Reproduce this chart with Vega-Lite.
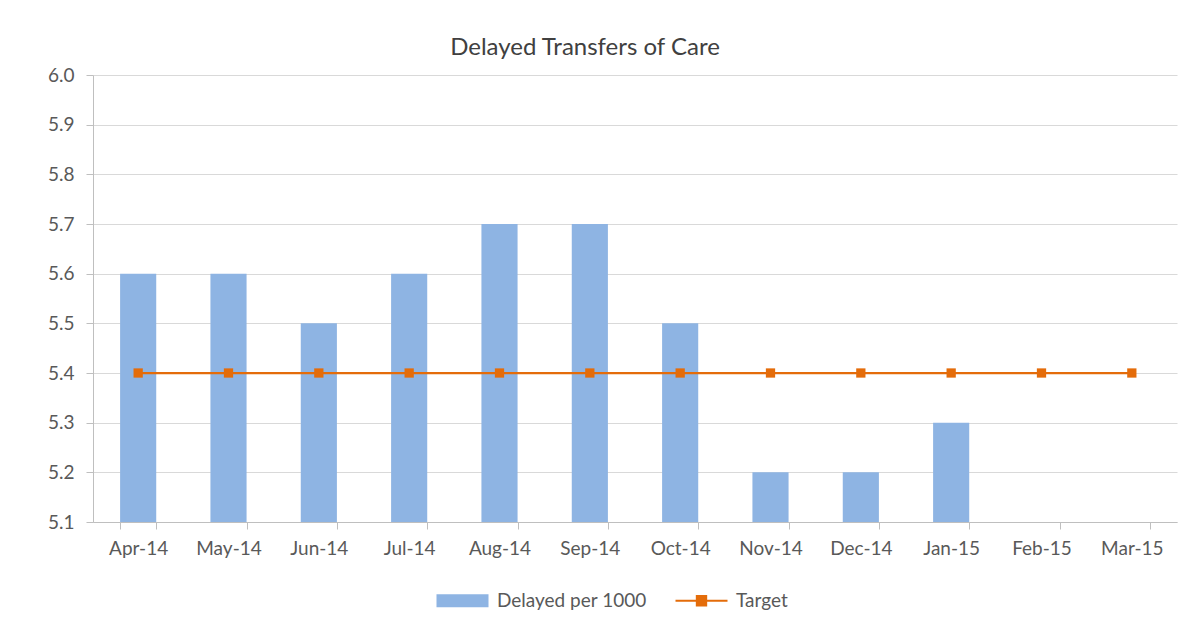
{
  "$schema": "https://vega.github.io/schema/vega-lite/v6.json",
  "autosize": {"type": "none"},
  "width": 1084,
  "height": 447,
  "padding": {"left": 93, "top": 75, "right": 7, "bottom": 108},
  "background": "white",
  "config": {
    "font": "Lato",
    "view": {"stroke": null},
    "axis": {"labelFont": "Lato", "labelFontSize": 19, "labelColor": "#595959", "domainColor": "#BFBFBF", "tickColor": "#BFBFBF", "gridColor": "#D9D9D9", "title": null}
  },
  "title": {"text": "Delayed Transfers of Care", "font": "Lato", "fontSize": 24, "fontWeight": "normal", "color": "#404040", "anchor": "middle", "frame": "group", "dx": -50, "offset": 6},
  "data": {
    "values": [
      {"month": "Apr-14", "delayed": 5.6, "target": 5.4},
      {"month": "May-14", "delayed": 5.6, "target": 5.4},
      {"month": "Jun-14", "delayed": 5.5, "target": 5.4},
      {"month": "Jul-14", "delayed": 5.6, "target": 5.4},
      {"month": "Aug-14", "delayed": 5.7, "target": 5.4},
      {"month": "Sep-14", "delayed": 5.7, "target": 5.4},
      {"month": "Oct-14", "delayed": 5.5, "target": 5.4},
      {"month": "Nov-14", "delayed": 5.2, "target": 5.4},
      {"month": "Dec-14", "delayed": 5.2, "target": 5.4},
      {"month": "Jan-15", "delayed": 5.3, "target": 5.4},
      {"month": "Feb-15", "delayed": null, "target": 5.4},
      {"month": "Mar-15", "delayed": null, "target": 5.4}
    ]
  },
  "encoding": {
    "x": {
      "field": "month", "type": "nominal", "sort": null,
      "scale": {"paddingInner": 0.6, "paddingOuter": 0.3},
      "axis": {"labelAngle": 0, "tickBand": "extent", "tickSize": 7, "labelPadding": 10, "grid": false}
    }
  },
  "layer": [
    {
      "mark": {"type": "bar", "color": "#8EB4E3"},
      "encoding": {
        "y": {
          "field": "delayed", "type": "quantitative",
          "scale": {"domain": [5.1, 6.0], "zero": false, "nice": false},
          "axis": {"values": [5.1, 5.2, 5.3, 5.4, 5.5, 5.6, 5.7, 5.8, 5.9, 6.0], "format": ".1f", "tickSize": 7, "labelPadding": 12, "grid": true, "domain": true}
        },
        "y2": {"datum": 5.1},
        "color": {
          "datum": "Delayed per 1000",
          "scale": {"domain": ["Delayed per 1000", "Target"], "range": ["#8EB4E3", "#E46C0A"]},
          "legend": {
            "title": null,
            "orient": "none",
            "direction": "horizontal",
            "legendX": 360,
            "legendY": 516,
            "labelFont": "Lato",
            "labelFontSize": 19,
            "labelColor": "#595959",
            "symbolSize": 2704,
            "columnPadding": 24,
            "labelOffset": 25,
            "encode": {
              "symbols": {
                "update": {
                  "shape": {"signal": "datum.value === 'Target' ? 'M-1,0H1M-0.18,-0.18H0.18V0.18H-0.18Z' : 'M-1,-0.25H1V0.25H-1Z'"},
                  "fill": {"scale": "color", "field": "value"},
                  "stroke": {"scale": "color", "field": "value"},
                  "strokeWidth": {"signal": "datum.value === 'Target' ? 2 : 0"},
                  "opacity": {"value": 1},
                  "fillOpacity": {"value": 1}
                }
              }
            }
          }
        }
      }
    },
    {
      "mark": {"type": "line", "strokeWidth": 2.25, "point": {"shape": "square", "size": 86, "filled": true, "color": "#E46C0A"}},
      "encoding": {
        "y": {"field": "target", "type": "quantitative"},
        "color": {"datum": "Target"}
      }
    }
  ]
}
